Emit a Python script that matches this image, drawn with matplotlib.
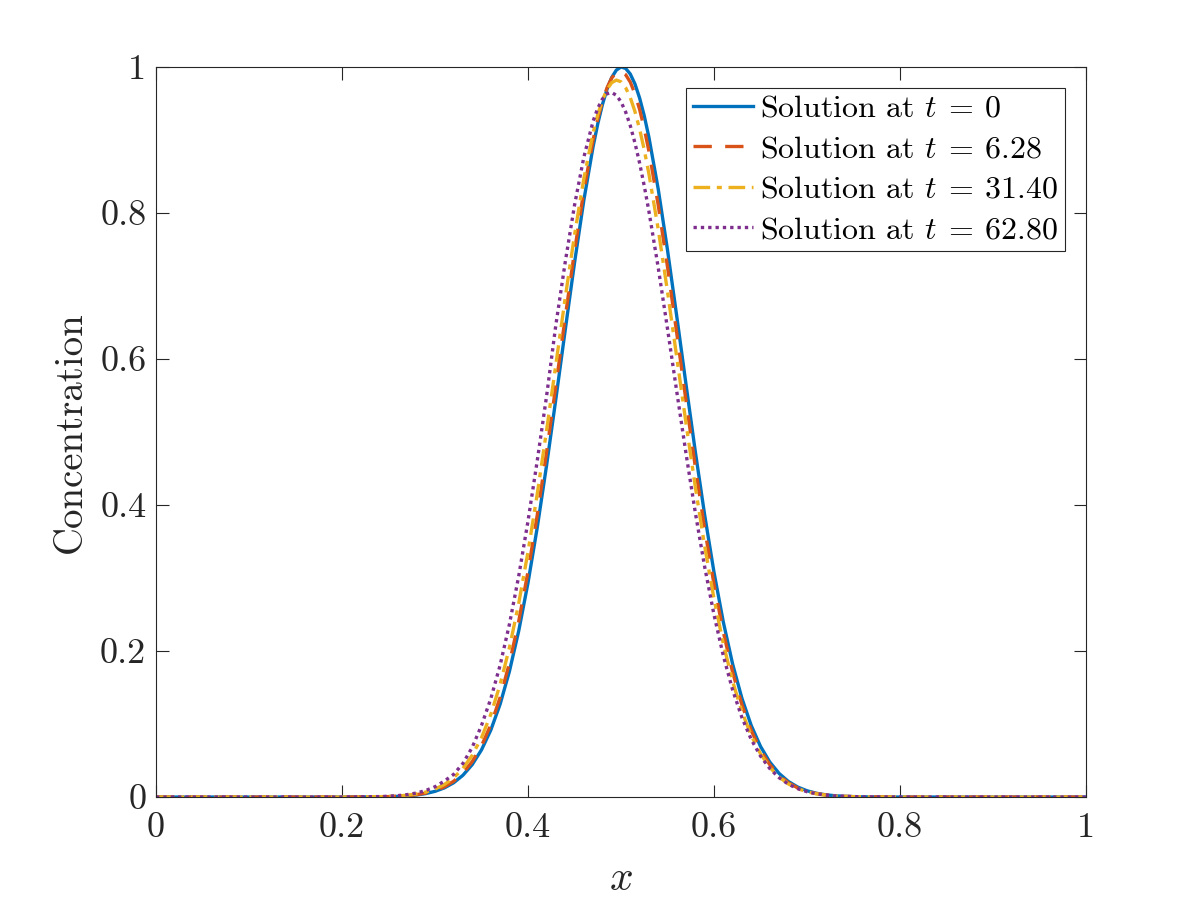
import numpy as np
import matplotlib
matplotlib.use("Agg")
import matplotlib.pyplot as plt

x = [0.00, 0.20, 0.24, 0.25, 0.26, 0.27, 0.28, 0.29, 0.30, 0.31, 0.32, 0.33, 0.34,
     0.35, 0.36, 0.37, 0.38, 0.39, 0.40, 0.41, 0.42, 0.43, 0.44, 0.45, 0.46, 0.47,
     0.475, 0.48, 0.485, 0.49, 0.495, 0.50, 0.505, 0.51, 0.515, 0.52, 0.525, 0.53,
     0.54, 0.55, 0.56, 0.57, 0.58, 0.59, 0.60, 0.61, 0.62, 0.63, 0.64, 0.65, 0.66,
     0.67, 0.68, 0.69, 0.70, 0.71, 0.72, 0.73, 0.74, 0.75, 0.76, 0.80, 1.00]

# concentration at t = 0
c_t0 = [0.0, 0.0, 0.0003, 0.0005, 0.0009, 0.0016, 0.0028, 0.0047, 0.0078, 0.0125, 0.0195, 0.0298, 0.0444,
        0.0646, 0.0917, 0.1271, 0.172, 0.2274, 0.2934, 0.3696, 0.4545, 0.5456, 0.6394, 0.7315, 0.8171, 0.8909,
        0.922, 0.9484, 0.9697, 0.9856, 0.9957, 1.000, 0.998, 0.9903, 0.9767, 0.9575, 0.9331, 0.9038,
        0.8329, 0.7493, 0.6581, 0.5643, 0.4723, 0.386, 0.3079, 0.2398, 0.1823, 0.1353, 0.0981, 0.0694, 0.0479,
        0.0323, 0.0213, 0.0137, 0.0086, 0.0052, 0.0031, 0.0018, 0.0010, 0.0006, 0.0003, 0.0, 0.0]

# t = 6.28
c_t1 = [0.0, 0.0, 0.0003, 0.0006, 0.0011, 0.0019, 0.0032, 0.0054, 0.0087, 0.0139, 0.0216, 0.0328, 0.0485,
        0.0701, 0.099, 0.1363, 0.1834, 0.2407, 0.3088, 0.3866, 0.4726, 0.5639, 0.6570, 0.7474, 0.830, 0.9001,
        0.9288, 0.9529, 0.9716, 0.9849, 0.9923, 0.994, 0.9894, 0.9792, 0.9632, 0.9419, 0.9156, 0.8847,
        0.811, 0.7262, 0.6348, 0.5416, 0.4513, 0.3671, 0.2915, 0.2260, 0.1711, 0.1265, 0.0912, 0.0643, 0.0442,
        0.0297, 0.0195, 0.0125, 0.0078, 0.0048, 0.0028, 0.0017, 0.0009, 0.0005, 0.0003, 0.0, 0.0]

# t = 31.40
c_t2 = [0.0, 0.0, 0.0005, 0.0008, 0.0014, 0.0025, 0.0042, 0.0068, 0.0109, 0.0171, 0.0262, 0.0392, 0.0571,
        0.0813, 0.1132, 0.154, 0.2044, 0.2651, 0.3358, 0.4156, 0.5022, 0.5928, 0.6835, 0.7697, 0.8467, 0.9097,
        0.9347, 0.9546, 0.9693, 0.9785, 0.982, 0.9797, 0.9716, 0.9580, 0.9390, 0.9150, 0.8865, 0.8537,
        0.7779, 0.6924, 0.6020, 0.5111, 0.4239, 0.3434, 0.2717, 0.2100, 0.1585, 0.1170, 0.0843, 0.0592, 0.0407,
        0.0273, 0.0179, 0.0115, 0.0072, 0.0044, 0.0026, 0.0015, 0.0009, 0.0005, 0.0003, 0.0, 0.0]

# t = 62.80
c_t3 = [0.0, 0.0, 0.0006, 0.0011, 0.0019, 0.0033, 0.0055, 0.0089, 0.0141, 0.0218, 0.031, 0.046, 0.068,
        0.0981, 0.1347, 0.1805, 0.2365, 0.3025, 0.378, 0.4611, 0.5494, 0.6471, 0.7325, 0.8104, 0.8762, 0.9258,
        0.9435, 0.956, 0.9633, 0.965, 0.9612, 0.9523, 0.9383, 0.9195, 0.896, 0.8684, 0.8371, 0.8024,
        0.7254, 0.6415, 0.5550, 0.4697, 0.3889, 0.3151, 0.2497, 0.1936, 0.1468, 0.1089, 0.0790, 0.0561, 0.0390,
        0.0265, 0.0176, 0.0115, 0.0073, 0.0045, 0.0028, 0.0016, 0.0010, 0.0006, 0.0003, 0.0, 0.0]

labels = [r"Solution at $t\:=\:0$", r"Solution at $t\:=\:6.28$",
          r"Solution at $t\:=\:31.40$", r"Solution at $t\:=\:62.80$"]
tick_vals = [0, 0.2, 0.4, 0.6, 0.8, 1]
tick_text = ["0", "0.2", "0.4", "0.6", "0.8", "1"]

plt.rcParams['font.family'] = ['cmr10', 'DejaVu Serif']
plt.rcParams['mathtext.fontset'] = 'cm'
plt.rcParams['axes.formatter.use_mathtext'] = True
plt.rcParams['axes.unicode_minus'] = False

dark = '#262626'
fig = plt.figure(figsize=(12, 9), dpi=100)
ax = fig.add_axes([0.13, 0.1144, 0.775, 0.8112])

lw = 2.4
ax.plot(x, c_t0, color='#0072BD', lw=lw, linestyle='-', label=labels[0])
ax.plot(x, c_t1, color='#D95319', lw=lw, linestyle=(0, (5.5, 4)), label=labels[1])
ax.plot(x, c_t2, color='#EDB120', lw=lw, linestyle=(0, (5, 2, 1.5, 2)), label=labels[2])
ax.plot(x, c_t3, color='#7E2F8E', lw=lw, linestyle=(0, (1, 1.2)), label=labels[3])

ax.set_xlim(0, 1)
ax.set_ylim(0, 1)
ax.set_xticks(tick_vals)
ax.set_xticklabels(tick_text)
ax.set_yticks(tick_vals)
ax.set_yticklabels(tick_text)
ax.tick_params(axis='both', direction='in', length=9, width=0.8, top=True, right=True,
               labelsize=26, colors=dark)
ax.tick_params(axis='x', pad=11)
ax.tick_params(axis='y', pad=7)
for s in ax.spines.values():
    s.set_color(dark)
    s.set_linewidth(0.8)

ax.set_xlabel("$x$", fontsize=30, color=dark, labelpad=12)
ax.set_ylabel("Concentration", fontsize=28, color=dark, labelpad=8)

leg = ax.legend(loc='upper right', fontsize=23, frameon=True, fancybox=False,
                framealpha=1, edgecolor=dark, handlelength=1.9, handletextpad=0.2,
                borderpad=0.2, labelspacing=0.38, borderaxespad=0.0,
                bbox_to_anchor=(0.977, 0.971))
leg.get_frame().set_linewidth(0.8)
for t in leg.get_texts():
    t.set_color('black')

fig.savefig("out.png", dpi=100)
